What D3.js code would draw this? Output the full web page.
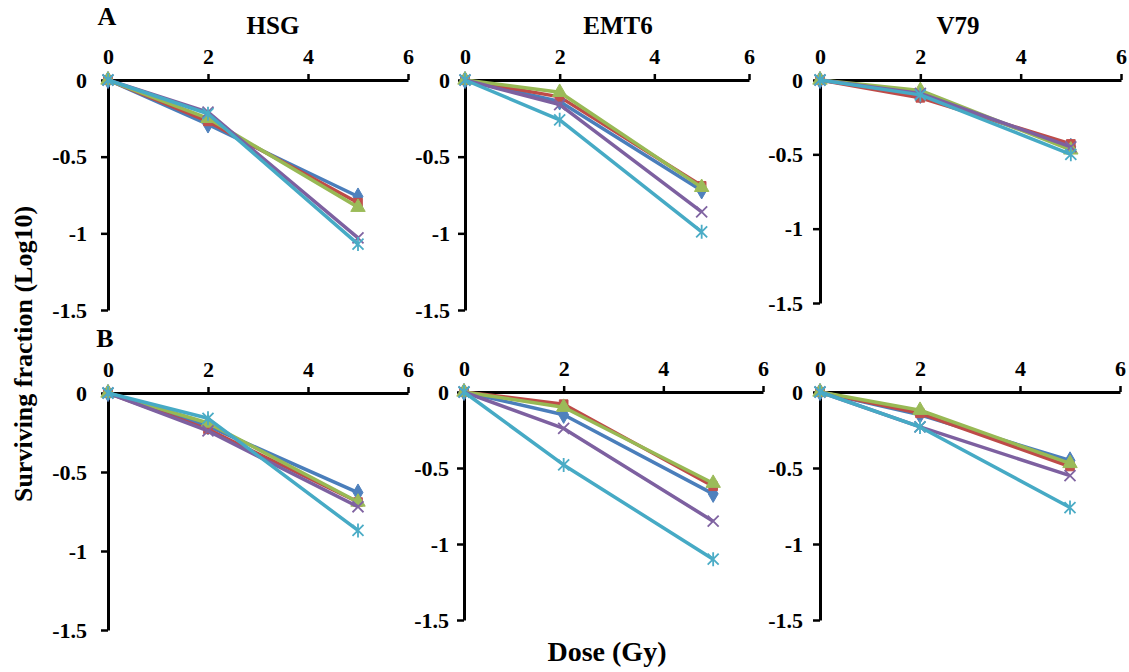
<!DOCTYPE html>
<html>
<head>
<meta charset="utf-8">
<script src="https://cdn.jsdelivr.net/npm/d3@7"></script>
<style>
  html, body { margin: 0; padding: 0; background: #fff; }
  svg { display: block; }
  text { font-family: "Liberation Serif", "Times New Roman", serif; font-weight: bold; fill: #000; }
</style>
</head>
<body>
<svg id="chart" width="1129" height="672"></svg>
<script>
// Dose points (Gy) shared by every series
const doses = [0, 2, 5];
const xTicks = [0, 2, 4, 6];
const yTicks = [0, -0.5, -1, -1.5];
const cellLines = ["HSG", "EMT6", "V79"];
const rowLabels = ["A", "B"];

// log10 surviving fraction, one row per series (diamond, square, triangle, cross, star)
const hsgA = [
  [0, -0.29, -0.76],
  [0, -0.27, -0.80],
  [0, -0.25, -0.83],
  [0, -0.21, -1.03],
  [0, -0.22, -1.07]
];
const emt6A = [
  [0, -0.14, -0.72],
  [0, -0.11, -0.69],
  [0, -0.08, -0.70],
  [0, -0.16, -0.86],
  [0, -0.26, -0.99]
];
const v79A = [
  [0, -0.10, -0.45],
  [0, -0.12, -0.43],
  [0, -0.07, -0.47],
  [0, -0.09, -0.45],
  [0, -0.10, -0.50]
];
const hsgB = [
  [0, -0.21, -0.63],
  [0, -0.23, -0.69],
  [0, -0.19, -0.69],
  [0, -0.24, -0.72],
  [0, -0.16, -0.87]
];
const emt6B = [
  [0, -0.15, -0.67],
  [0, -0.08, -0.62],
  [0, -0.10, -0.60],
  [0, -0.24, -0.85],
  [0, -0.48, -1.10]
];
const v79B = [
  [0, -0.15, -0.45],
  [0, -0.14, -0.49],
  [0, -0.12, -0.47],
  [0, -0.23, -0.55],
  [0, -0.23, -0.76]
];

const lineColors = ["#4A7EBB", "#BE4B48", "#98B954", "#7D60A0", "#46AAC5"];
const markColors = ["#4F81BD", "#C0504D", "#9BBB59", "#8064A2", "#4BACC6"];
const markTypes = ["diamond", "square", "triangle", "cross", "star"];

// Plot-area geometry for each panel (pixel frame of the axes, y-label padding)
const panels = [
  { data: hsgA,  x0: 108, x1: 408,  y0: 80,  y1: 310, pad: 14 },
  { data: emt6A, x0: 465, x1: 749,  y0: 80,  y1: 310, pad: 8 },
  { data: v79A,  x0: 820, x1: 1121, y0: 80,  y1: 303, pad: 10 },
  { data: hsgB,  x0: 108, x1: 408,  y0: 393, y1: 630, pad: 14 },
  { data: emt6B, x0: 464, x1: 763,  y0: 392, y1: 620, pad: 8 },
  { data: v79B,  x0: 820, x1: 1120, y0: 392, y1: 620, pad: 10 }
];

const FONT = '"Liberation Serif", "Times New Roman", serif';
const svg = d3.select("#chart");

function drawMarker(g, type, cx, cy, color) {
  if (type === "diamond" || type === "square" || type === "triangle") {
    const sym = type === "diamond" ? d3.symbolDiamond : type === "square" ? d3.symbolSquare : d3.symbolTriangle;
    const size = type === "diamond" ? 85 : type === "square" ? 75 : 90;
    g.append("path")
      .attr("d", d3.symbol().type(sym).size(size)())
      .attr("transform", `translate(${cx},${cy})`)
      .attr("fill", color)
      .attr("stroke", color)
      .attr("stroke-width", 1);
  } else {
    const r = 5.5;
    let d = `M${-r},${-r}L${r},${r}M${-r},${r}L${r},${-r}`;
    if (type === "star") d += `M0,${-r - 1.5}L0,${r + 1.5}`;
    g.append("path")
      .attr("d", d)
      .attr("transform", `translate(${cx},${cy})`)
      .attr("fill", "none")
      .attr("stroke", color)
      .attr("stroke-width", 1.8);
  }
}

panels.forEach(p => {
  const x = d3.scaleLinear().domain([0, 6]).range([p.x0, p.x1]);
  const y = d3.scaleLinear().domain([0, -1.5]).range([p.y0, p.y1]);
  const g = svg.append("g");

  // y axis (left, ticks pointing outward)
  const yAxis = g.append("g")
    .attr("transform", `translate(${p.x0},0)`)
    .call(d3.axisLeft(y).tickValues(yTicks).tickSize(7).tickSizeOuter(0).tickPadding(p.pad)
      .tickFormat(d => String(d)));
  // x axis along y = 0, labels above
  const xAxis = g.append("g")
    .attr("transform", `translate(0,${p.y0})`)
    .call(d3.axisTop(x).tickValues(xTicks).tickSize(6).tickSizeOuter(0).tickPadding(10)
      .tickFormat(d => String(d)));

  [yAxis, xAxis].forEach(ax => {
    ax.attr("font-family", FONT).attr("font-size", 22);
    ax.select(".domain").attr("stroke", "#000").attr("stroke-width", 3);
    ax.selectAll(".tick line").attr("stroke", "#000").attr("stroke-width", 2.5);
    ax.selectAll(".tick text")
      .style("font-size", "22px")
      .style("font-family", FONT)
      .style("font-weight", "bold")
      .attr("fill", "#000");
  });
  xAxis.selectAll(".tick").filter(d => d === 0).select("line").remove();

  const line = d3.line().x((d, i) => x(doses[i])).y(d => y(d));
  p.data.forEach((vals, s) => {
    const sg = g.append("g");
    sg.append("path")
      .attr("d", line(vals))
      .attr("fill", "none")
      .attr("stroke", lineColors[s])
      .attr("stroke-width", 3.5)
      .attr("stroke-linejoin", "round");
    vals.forEach((v, i) => drawMarker(sg, markTypes[s], x(doses[i]), y(v), markColors[s]));
  });
});

// Cell-line titles over the top row
const titlePos = [273, 618, 958];
cellLines.forEach((t, i) => {
  svg.append("text").attr("x", titlePos[i]).attr("y", 34)
    .attr("text-anchor", "middle").style("font-size", "25px").text(t);
});

// Row labels
const rowPos = [[107, 25], [105, 347]];
rowLabels.forEach((t, i) => {
  svg.append("text").attr("x", rowPos[i][0]).attr("y", rowPos[i][1])
    .attr("text-anchor", "middle").style("font-size", "26px").text(t);
});

// Shared axis titles
svg.append("text")
  .attr("transform", "translate(32,354) rotate(-90)")
  .attr("text-anchor", "middle")
  .style("font-size", "26px")
  .text("Surviving fraction (Log10)");
svg.append("text")
  .attr("x", 607).attr("y", 661)
  .attr("text-anchor", "middle")
  .style("font-size", "28px")
  .text("Dose (Gy)");
</script>
</body>
</html>
